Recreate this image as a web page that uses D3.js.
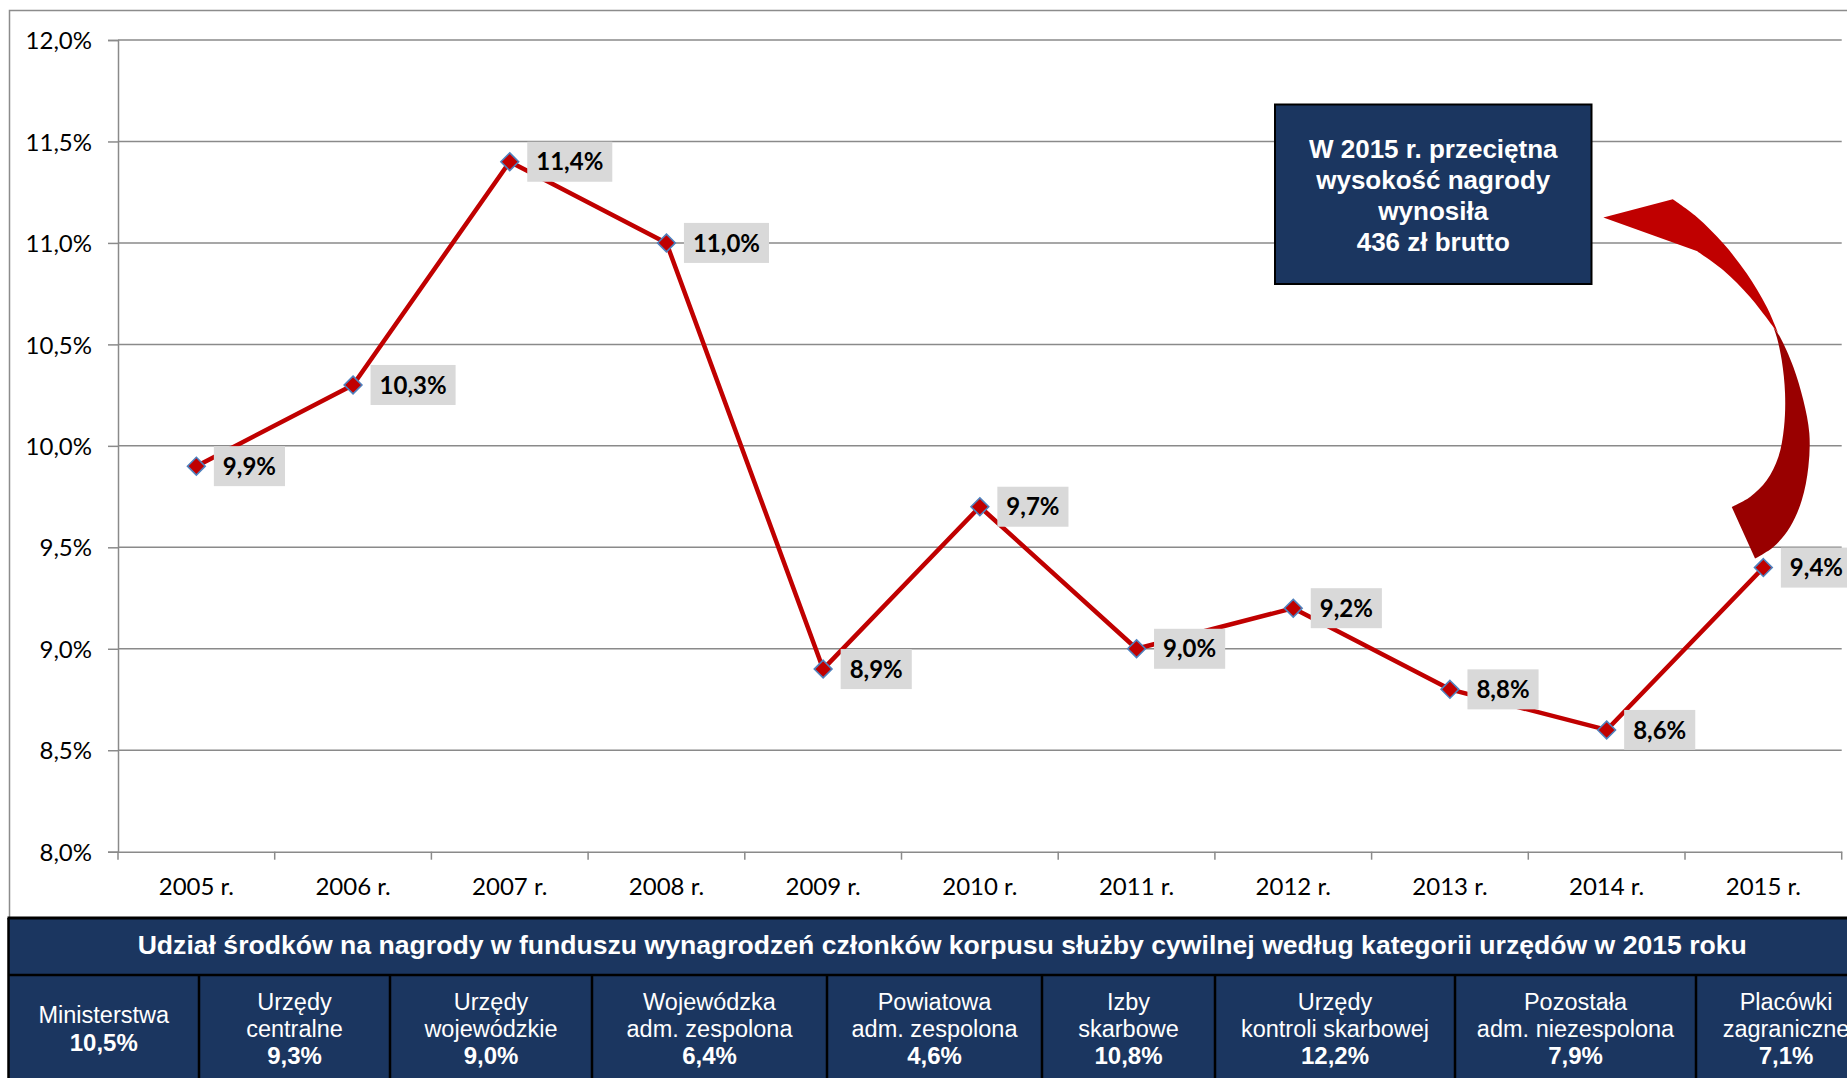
<!DOCTYPE html>
<html><head><meta charset="utf-8">
<script src="https://cdn.jsdelivr.net/npm/d3@7"></script>
<style>
html,body{margin:0;padding:0;background:#fff;overflow:hidden}
svg text{font-kerning:normal}
</style>
</head><body>
<svg id="chart" width="1847" height="1078"></svg>
<script>
// ---------------- DATA ----------------
const years = ["2005 r.","2006 r.","2007 r.","2008 r.","2009 r.","2010 r.","2011 r.","2012 r.","2013 r.","2014 r.","2015 r."];
const shares = [9.9, 10.3, 11.4, 11.0, 8.9, 9.7, 9.0, 9.2, 8.8, 8.6, 9.4];
const yTicks = [8.0, 8.5, 9.0, 9.5, 10.0, 10.5, 11.0, 11.5, 12.0];

const tableTitle = "Udział środków na nagrody w funduszu wynagrodzeń członków korpusu służby cywilnej według kategorii urzędów w 2015 roku";
const officeCategories = [
  ["Ministerstwa"],
  ["Urzędy","centralne"],
  ["Urzędy","wojewódzkie"],
  ["Wojewódzka","adm. zespolona"],
  ["Powiatowa","adm. zespolona"],
  ["Izby","skarbowe"],
  ["Urzędy","kontroli skarbowej"],
  ["Pozostała","adm. niezespolona"],
  ["Placówki","zagraniczne"]
];
const officeShares = [10.5, 9.3, 9.0, 6.4, 4.6, 10.8, 12.2, 7.9, 7.1];
const calloutLines = ["W 2015 r. przeciętna","wysokość nagrody","wynosiła","436 zł brutto"];

// ---------------- LAYOUT ----------------
const W = 1847, H = 1078;
const plot = {left:118, top:40, right:1841.7, bottom:851.7};
const tableTop = 918, titleRowBottom = 975, tableLeft = 8.5;
const colEdges = [8.5, 199, 390, 592, 827, 1042, 1215, 1455, 1696, 1876];
const NAVY = "#1B3660", RED = "#C00000", DARKRED = "#990000", GRID = "#8A8A8A";
const calibri = "Lato, 'Open Sans', sans-serif";
const arial = "'Liberation Sans', Arial, sans-serif";

const pl = d3.formatLocale({decimal:",", thousands:" ", grouping:[3], currency:["","zł"]});
const fmt1 = pl.format(".1f");
const pct = v => fmt1(v) + "%";

const svg = d3.select("#chart");

// outer chart frame
svg.append("rect").attr("x",9.5).attr("y",10.5).attr("width",W+20).attr("height",tableTop)
  .attr("fill","#fff").attr("stroke","#8C8C8C").attr("stroke-width",1.5);

const x = d3.scaleBand().domain(years).range([plot.left, plot.right]).padding(0);
const y = d3.scaleLinear().domain([8,12]).range([plot.bottom, plot.top]);
const cx = d => x(d) + x.bandwidth()/2;

// gridlines
svg.append("g").selectAll("line").data(yTicks.filter(t=>t>8)).join("line")
  .attr("x1",plot.left).attr("x2",plot.right)
  .attr("y1",d=>y(d)).attr("y2",d=>y(d))
  .attr("stroke",GRID).attr("stroke-width",1.5);

// y axis
const yAxis = svg.append("g").attr("transform",`translate(${plot.left},0)`)
  .call(d3.axisLeft(y).tickValues(yTicks).tickSize(10).tickPadding(16).tickFormat(pct));
yAxis.select(".domain").attr("stroke",GRID).attr("stroke-width",1.5);
yAxis.selectAll(".tick line").attr("stroke",GRID).attr("stroke-width",1.5);
yAxis.selectAll("text").attr("font-family",calibri).attr("font-size",24).attr("fill","#000").attr("dy","0.36em");

// x axis
const xAxis = svg.append("g").attr("transform",`translate(0,${plot.bottom})`)
  .call(d3.axisBottom(x).tickSize(0).tickPadding(26));
xAxis.select(".domain").attr("stroke",GRID).attr("stroke-width",1.5);
xAxis.selectAll("text").attr("font-family",calibri).attr("font-size",24).attr("fill","#000");
const edges = years.map(d=>x(d)).concat([x.range()[1]]);
svg.append("g").selectAll("line").data(edges).join("line")
  .attr("x1",d=>d).attr("x2",d=>d).attr("y1",plot.bottom).attr("y2",plot.bottom+8)
  .attr("stroke",GRID).attr("stroke-width",1.5);

// callout box
const box = {x:1275, y:104.5, w:316.5, h:179.5};
svg.append("rect").attr("x",box.x).attr("y",box.y).attr("width",box.w).attr("height",box.h)
  .attr("fill",NAVY).attr("stroke","#000").attr("stroke-width",2);
svg.append("g").selectAll("text").data(calloutLines).join("text")
  .attr("x",box.x+box.w/2).attr("y",(d,i)=>148.5+i*31).attr("dy","0.36em")
  .attr("text-anchor","middle").attr("font-family",arial).attr("font-weight","bold")
  .attr("font-size",26).attr("fill","#fff").text(d=>d);

// curved arrow (relative to the 2015 point)
const px = cx(years[years.length-1]), py = y(shares[shares.length-1]);
const rel = a => a.map(([dx,dy]) => [px+dx, py+dy]);
const smooth = (pts, first) => {
  const s = d3.line().curve(d3.curveCatmullRom.alpha(0.5))(pts);
  return first ? s : s.replace(/^M/,"L");
};
const tip = [-160,-350], headTop = [-90.6,-368.3];
const upperOuter = [headTop,[-66.6,-350.6],[-40,-324],[-16.6,-294],[3.4,-260.6],[15,-234]];
const upperInner = [[10,-240.6],[-13.3,-270.6],[-40,-297.3],[-66.6,-316.6]];
const upperPath = "M"+rel([tip])[0].join(",") + smooth(rel(upperOuter),false) + smooth(rel(upperInner),false) + "L"+rel([tip])[0].join(",")+"Z";
svg.append("path").attr("d",upperPath).attr("fill",RED);
const lowerOuter = [[10,-240.6],[16.7,-230.6],[30,-200.6],[40,-167.3],[46,-134],[45,-100.6],[38.4,-67.3],[26.7,-40.6],[10,-20.6],[-8.3,-9]];
const lowerInner = [[-31.6,-60.6],[-13.3,-70.6],[3.4,-87.3],[15,-110.6],[20.7,-140.6],[21.7,-174],[18.4,-207.3],[13.4,-230.6],[10,-240.6]];
const lowerPath = smooth(rel(lowerOuter),true) + "L"+rel([lowerInner[0]])[0].join(",") + smooth(rel(lowerInner),false) + "Z";
svg.append("path").attr("d",lowerPath).attr("fill",DARKRED);

// line
const pts = years.map((d,i)=>[cx(d), y(shares[i])]);
svg.append("path").attr("d",d3.line()(pts)).attr("fill","none")
  .attr("stroke",RED).attr("stroke-width",4.5).attr("stroke-linejoin","round");

// markers
svg.append("g").selectAll("path").data(years).join("path")
  .attr("transform",(d,i)=>`translate(${cx(d)},${y(shares[i])})`)
  .attr("d",d3.symbol(d3.symbolDiamond2, 200)())
  .attr("fill",RED).attr("stroke","#4F81BD").attr("stroke-width",1.6);

// data labels
const lbl = svg.append("g").selectAll("g").data(years).join("g")
  .attr("transform",(d,i)=>`translate(${cx(d)+17.5},${y(shares[i])})`);
lbl.append("rect").attr("fill","#D9D9D9").attr("y",-20).attr("height",40);
lbl.append("text").attr("x",9).attr("dy","0.36em").attr("font-family",calibri)
  .attr("font-weight","bold").attr("font-size",24).attr("fill","#000")
  .text((d,i)=>pct(shares[i]));
lbl.each(function(){
  const g = d3.select(this);
  const w = g.select("text").node().getComputedTextLength();
  g.select("rect").attr("width", w+18);
});

// bottom table
svg.append("rect").attr("x",tableLeft).attr("y",tableTop).attr("width",W).attr("height",H)
  .attr("fill",NAVY);
svg.append("line").attr("x1",tableLeft-1).attr("x2",W).attr("y1",tableTop).attr("y2",tableTop)
  .attr("stroke","#000").attr("stroke-width",3);
svg.append("line").attr("x1",tableLeft).attr("x2",tableLeft).attr("y1",tableTop).attr("y2",H)
  .attr("stroke","#000").attr("stroke-width",2.5);
svg.append("line").attr("x1",tableLeft).attr("x2",W).attr("y1",titleRowBottom).attr("y2",titleRowBottom)
  .attr("stroke","#000").attr("stroke-width",2.5);
svg.append("g").selectAll("line").data(colEdges.slice(1)).join("line")
  .attr("x1",d=>d).attr("x2",d=>d).attr("y1",titleRowBottom).attr("y2",H)
  .attr("stroke","#000").attr("stroke-width",2.5);
svg.append("text").attr("x",(colEdges[0]+colEdges[colEdges.length-1])/2).attr("y",944).attr("dy","0.36em")
  .attr("text-anchor","middle").attr("font-family",arial).attr("font-weight","bold")
  .attr("font-size",26.6).attr("fill","#fff").text(tableTitle);

const cells = svg.append("g").selectAll("g").data(officeCategories).join("g")
  .attr("transform",(d,i)=>`translate(${(colEdges[i]+colEdges[i+1])/2},0)`);
cells.each(function(lines,i){
  const g = d3.select(this);
  const all = lines.map(t=>({t,bold:false})).concat([{t:pct(officeShares[i]),bold:true}]);
  const lh = 27, mid = 1028.5;
  const start = mid - (all.length-1)*lh/2;
  g.selectAll("text").data(all).join("text")
    .attr("y",(d,j)=>start+j*lh).attr("dy","0.36em").attr("text-anchor","middle")
    .attr("font-family",arial).attr("font-size",d=>d.bold?24:23.5)
    .attr("font-weight",d=>d.bold?"bold":"normal").attr("fill","#fff").text(d=>d.t);
});
</script>
</body></html>
